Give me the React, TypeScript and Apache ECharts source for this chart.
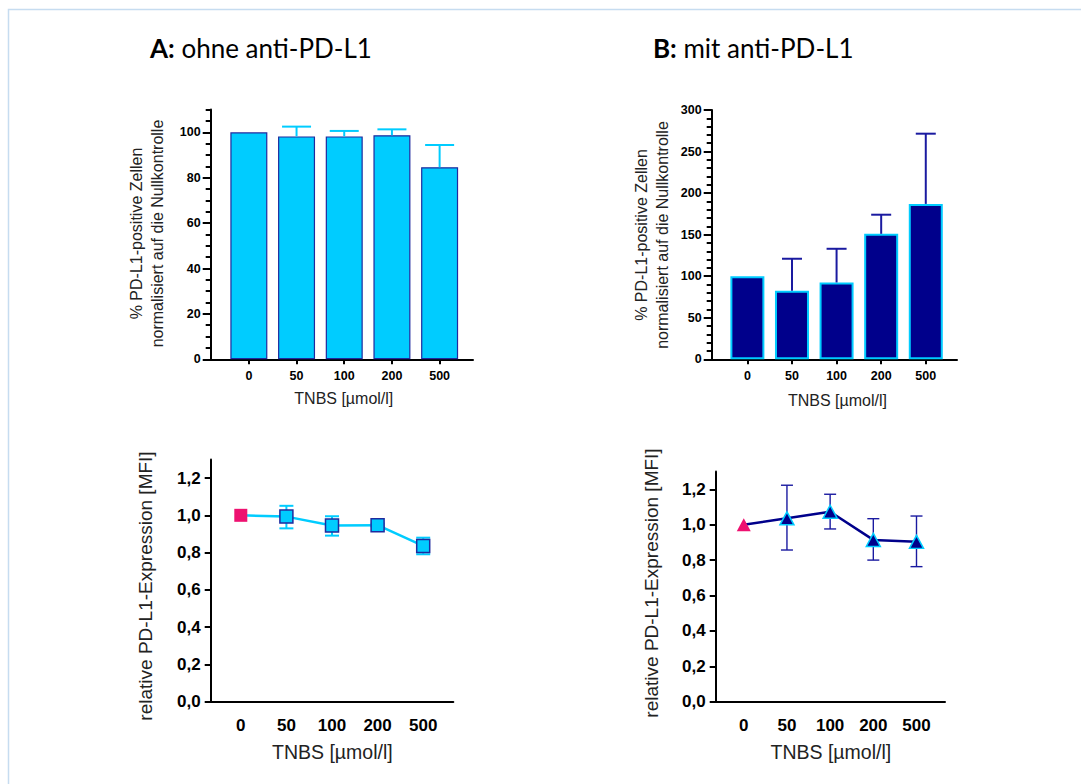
import React, { useEffect, useRef } from "react";
import * as echarts from "echarts";

// ---------- data ----------
const categories = ["0", "50", "100", "200", "500"];
const catIndex = [0, 1, 2, 3, 4];

// Panel A (top): % PD-L1-positive cells, normalised to the zero control
const barA = [100, 98.2, 98.2, 98.7, 84.6];
const barAErrTop = [null, 102.5, 100.6, 101.3, 94.4];

// Panel B (top): with anti-PD-L1
const barB = [100, 82.5, 92.5, 151, 187];
const barBErrTop = [null, 121, 133, 174, 271.5];

// Panel A (bottom): relative PD-L1 expression [MFI]
const mfiA = [1.0, 0.993, 0.945, 0.947, 0.836];
const mfiALow = [null, 0.93, 0.891, 0.94, 0.791];
const mfiAHigh = [null, 1.051, 0.995, 0.955, 0.88];

// Panel B (bottom)
const mfiB = [1.0, 1.036, 1.073, 0.914, 0.903];
const mfiBLow = [null, 0.857, 0.976, 0.8, 0.763];
const mfiBHigh = [null, 1.223, 1.172, 1.034, 1.049];

// tick labels
const pctTicksA = [0, 20, 40, 60, 80, 100];
const pctTicksB = [0, 50, 100, 150, 200, 250, 300];
const mfiTicks = [0, 0.2, 0.4, 0.6, 0.8, 1.0, 1.2];

const titleA = "ohne anti-PD-L1";
const titleB = "mit anti-PD-L1";
const yTitleTop = "% PD-L1-positive Zellen\nnormalisiert auf die Nullkontrolle";
const yTitleBottom = "relative PD-L1-Expression [MFI]";
const xTitle = "TNBS [µmol/l]";

// ---------- style ----------
const CYAN = "#00CCFF";
const NAVY = "#00008B";
const PINK = "#EE1170";
const EDGE = "#1F2A9E";
const FONT = "'Liberation Sans', Arial, Helvetica, sans-serif";
const TFONT = "Lato, 'Open Sans', sans-serif";

function errorRender(cap: number, color: string, lw: number, both: boolean) {
  return (params: any, api: any) => {
    const x = api.value(0);
    const lo = api.value(1);
    const hi = api.value(2);
    const pLo = api.coord([x, lo]);
    const pHi = api.coord([x, hi]);
    const h = cap / 2;
    const st = { stroke: color, lineWidth: lw };
    const children: any[] = [
      { type: "line", shape: { x1: pLo[0], y1: pLo[1], x2: pHi[0], y2: pHi[1] }, style: st },
      { type: "line", shape: { x1: pHi[0] - h, y1: pHi[1], x2: pHi[0] + h, y2: pHi[1] }, style: st },
    ];
    if (both) {
      children.push({ type: "line", shape: { x1: pLo[0] - h, y1: pLo[1], x2: pLo[0] + h, y2: pLo[1] }, style: st });
    }
    return { type: "group", children };
  };
}

function xAxisDef(gridIndex: number, min: number, max: number, ticks: boolean, fontSize: number, margin: number) {
  return {
    type: "value",
    gridIndex,
    min,
    max,
    position: "bottom",
    axisLine: { show: true, onZero: false, lineStyle: { color: "#000", width: 2 } },
    axisTick: ticks
      ? { show: true, customValues: catIndex, length: 5, lineStyle: { color: "#000", width: 2 } }
      : { show: false },
    axisLabel: {
      customValues: catIndex,
      formatter: (v: number) => categories[Math.round(v)] ?? "",
      color: "#000",
      fontWeight: "bold",
      fontSize,
      fontFamily: FONT,
      margin,
    },
    splitLine: { show: false },
  };
}

function yMajor(gridIndex: number, max: number, ticks: number[], fontSize: number, fmt?: (v: number) => string, tickLen = 8) {
  return {
    type: "value",
    gridIndex,
    min: 0,
    max,
    position: "left",
    axisLine: { show: true, onZero: false, lineStyle: { color: "#000", width: 2 } },
    axisTick: { show: true, customValues: ticks, length: tickLen, lineStyle: { color: "#000", width: 2 } },
    axisLabel: {
      customValues: ticks,
      formatter: fmt ? fmt : (v: number) => String(v),
      color: "#000",
      fontWeight: "bold",
      fontSize,
      fontFamily: FONT,
      margin: 10,
    },
    splitLine: { show: false },
  };
}

function yMinor(gridIndex: number, max: number, interval: number) {
  return {
    type: "value",
    gridIndex,
    min: 0,
    max,
    interval,
    position: "left",
    axisLine: { show: false, onZero: false },
    axisTick: { show: true, length: 5, lineStyle: { color: "#000", width: 2 } },
    axisLabel: { show: false },
    splitLine: { show: false },
  };
}

const commaFmt = (v: number) => v.toFixed(1).replace(".", ",");

function errData(vals: number[], lows: (number | null)[], highs: (number | null)[]) {
  const out: any[] = [];
  vals.forEach((v, i) => {
    if (highs[i] != null) out.push([i, lows[i] ?? v, highs[i]]);
  });
  return out;
}

function titleText(x: number, letter: string, rest: string) {
  return {
    type: "text",
    x,
    y: 47.5,
    style: {
      text: "{b|" + letter + ":} " + rest,
      fontSize: 26,
      fontFamily: TFONT,
      fill: "#000",
      verticalAlign: "middle",
      rich: { b: { fontWeight: "bold", fontSize: 26, fontFamily: TFONT, fill: "#000" } },
    },
  };
}

function vText(x: number, y: number, text: string, fontSize: number, lineHeight?: number) {
  return {
    type: "text",
    x,
    y,
    rotation: Math.PI / 2,
    style: {
      text,
      fontSize,
      lineHeight: lineHeight ?? Math.round(fontSize * 1.2),
      fontFamily: FONT,
      fill: "#222",
      align: "center",
      verticalAlign: "middle",
    },
  };
}

function hText(x: number, y: number, text: string, fontSize: number) {
  return {
    type: "text",
    x,
    y,
    style: { text, fontSize, fontFamily: FONT, fill: "#222", align: "center", verticalAlign: "middle" },
  };
}

export default function App() {
  const ref = useRef<HTMLDivElement>(null);

  useEffect(() => {
    if (!ref.current) return;
    const chart = echarts.init(ref.current, undefined, { renderer: "svg" });

    const option: any = {
      animation: false,
      backgroundColor: "#fff",
      grid: [
        { left: 210.7, top: 109.6, width: 262.3, height: 249.7 },
        { left: 711.7, top: 110, width: 245.3, height: 249.3 },
        { left: 210.7, top: 459.4, width: 242.6, height: 242.3 },
        { left: 715.7, top: 471.6, width: 229.3, height: 230.1 },
      ],
      xAxis: [
        xAxisDef(0, -0.8, 4.7, true, 12.5, 10),
        xAxisDef(1, -0.8, 4.7, true, 12.5, 10),
        xAxisDef(2, -0.66, 4.66, false, 17, 15),
        xAxisDef(3, -0.65, 4.66, false, 17, 15),
      ],
      yAxis: [
        yMajor(0, 110, pctTicksA, 12.5),
        yMinor(0, 110, 5),
        yMajor(1, 300, pctTicksB, 12.5),
        yMinor(1, 300, 10),
        yMajor(2, 1.3, mfiTicks, 17, commaFmt, 6),
        yMajor(3, 1.3, mfiTicks, 17, commaFmt, 6),
      ],
      series: [
        {
          type: "bar",
          xAxisIndex: 0,
          yAxisIndex: 0,
          barWidth: 37,
          data: barA.map((v, i) => [i, v]),
          itemStyle: { color: CYAN, borderColor: EDGE, borderWidth: 1.2 },
          z: 2,
        },
        {
          type: "custom",
          xAxisIndex: 0,
          yAxisIndex: 0,
          renderItem: errorRender(29, CYAN, 2, false),
          data: errData(barA, barA, barAErrTop),
          encode: { x: 0, y: [1, 2] },
          z: 3,
        },
        {
          type: "bar",
          xAxisIndex: 1,
          yAxisIndex: 2,
          barWidth: 34,
          data: barB.map((v, i) => [i, v]),
          itemStyle: { color: NAVY, borderColor: CYAN, borderWidth: 2 },
          z: 2,
        },
        {
          type: "custom",
          xAxisIndex: 1,
          yAxisIndex: 2,
          renderItem: errorRender(20, "#1A1AA0", 2, false),
          data: errData(barB, barB, barBErrTop),
          encode: { x: 0, y: [1, 2] },
          z: 3,
        },
        {
          type: "custom",
          xAxisIndex: 2,
          yAxisIndex: 4,
          renderItem: errorRender(14, CYAN, 2, true),
          data: errData(mfiA, mfiALow, mfiAHigh),
          encode: { x: 0, y: [1, 2] },
          z: 2,
        },
        {
          type: "line",
          xAxisIndex: 2,
          yAxisIndex: 4,
          symbol: "rect",
          symbolSize: 13,
          lineStyle: { color: CYAN, width: 2.5 },
          itemStyle: { color: CYAN, borderColor: EDGE, borderWidth: 1.5 },
          data: mfiA.map((v, i) =>
            i === 0 ? { value: [i, v], itemStyle: { color: PINK, borderWidth: 0 } } : [i, v]
          ),
          z: 3,
        },
        {
          type: "custom",
          xAxisIndex: 3,
          yAxisIndex: 5,
          renderItem: errorRender(12, "#1A1AA0", 1.4, true),
          data: errData(mfiB, mfiBLow, mfiBHigh),
          encode: { x: 0, y: [1, 2] },
          z: 2,
        },
        {
          type: "line",
          xAxisIndex: 3,
          yAxisIndex: 5,
          symbol: "triangle",
          symbolSize: [14, 13],
          lineStyle: { color: NAVY, width: 2.5 },
          itemStyle: { color: NAVY, borderColor: CYAN, borderWidth: 1.5 },
          data: mfiB.map((v, i) =>
            i === 0 ? { value: [i, v], itemStyle: { color: PINK, borderWidth: 0 } } : [i, v]
          ),
          z: 3,
        },
      ],
      graphic: [
        {
          type: "rect",
          z: -10,
          shape: { x: 8.5, y: 9.5, width: 1100, height: 800 },
          style: { fill: "none", stroke: "#C6DCF0", lineWidth: 1.5 },
        },
        titleText(150, "A", titleA),
        titleText(653, "B", titleB),
        vText(146.5, 233.5, yTitleTop, 16, 21),
        vText(652.3, 235, yTitleTop, 16, 21),
        vText(145, 586, yTitleBottom, 19),
        vText(651.7, 583, yTitleBottom, 19),
        hText(343.8, 398, xTitle, 16),
        hText(837.5, 400, xTitle, 16),
        hText(332.3, 751.7, xTitle, 19.5),
        hText(830.8, 751.7, xTitle, 19.5),
      ],
    };

    chart.setOption(option);
    return () => {
      chart.dispose();
    };
  }, []);

  return (
    <div
      ref={ref}
      style={{ position: "fixed", left: 0, top: 0, width: 1081, height: 784, background: "#fff" }}
    />
  );
}
